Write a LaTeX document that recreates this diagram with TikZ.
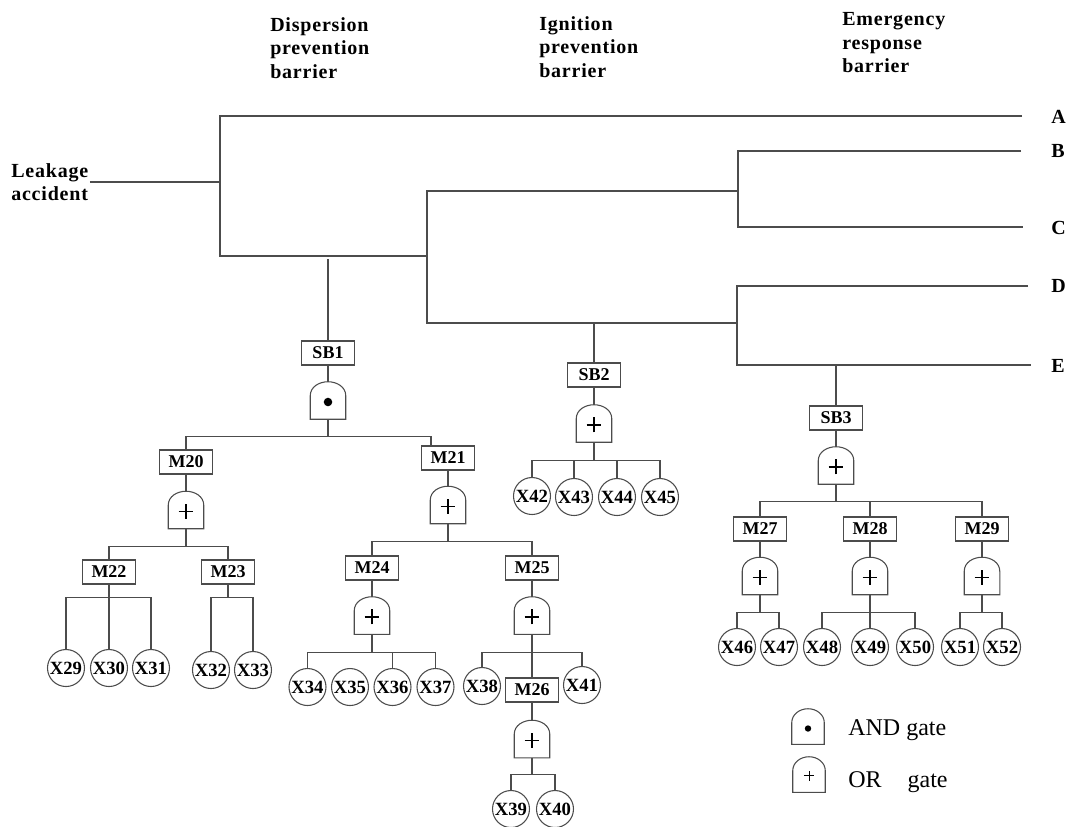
\documentclass[tikz,border=0pt]{standalone}
\usepackage{fontspec}
\setmainfont{Liberation Serif}
\usetikzlibrary{calc}

\begin{document}
\begin{tikzpicture}[
	x=0.75pt, y=-0.75pt,
	wire/.style={
		draw=black!70,
		line width=0.8pt,
	},
	head/.style={
		font=\fontsize{15}{17.6}\selectfont\bfseries\addfontfeature{LetterSpace=4},
		align=left,
		anchor=west,
		inner sep=0pt,
	},
	outcome/.style={
		font=\fontsize{15}{17.6}\selectfont\bfseries,
		anchor=west,
		inner sep=0pt,
	},
	evbox/.style={
		draw=black!70,
		line width=0.8pt,
		rectangle,
		minimum width=39.75pt,
		minimum height=18pt,
		inner sep=0pt,
		font=\fontsize{13.5}{14}\selectfont\bfseries,
	},
	basic/.style={
		draw=black!70,
		line width=0.8pt,
		circle,
		minimum size=27.75pt,
		inner sep=0pt,
		font=\fontsize{14}{14}\selectfont\bfseries,
	},
	gate/.style={
		rectangle,
		minimum width=26.25pt,
		minimum height=27.75pt,
		inner sep=0pt,
	},
	orgate/.style={
		gate,
		path picture={
			\draw [line width=1.1pt] ([xshift=-5.6pt,yshift=-1pt]path picture bounding box.center) -- ++(11.2pt,0pt)
				([yshift=-6.6pt]path picture bounding box.center) -- ++(0pt,11.2pt);
		},
	},
	andgate/.style={
		gate,
		path picture={\fill (path picture bounding box.center) ++(0,1.5) circle (3.2pt);},
	},
	keygate/.style={
		gate,
		minimum width=24pt,
		minimum height=26.25pt,
	},
	keytext/.style={
		font=\fontsize{18}{18}\selectfont,
		anchor=west,
		inner sep=0pt,
	},
]
\useasboundingbox (0,0) rectangle (1069,826);

% barrier headings
\node [head] (leak) at (11,182) {Leakage\\accident};
\node [head] (disp) at (270,48) {Dispersion\\prevention\\barrier};
\node [head] (ign) at (539,47) {Ignition\\prevention\\barrier};
\node [head] (emer) at (842,43) {Emergency\\response\\barrier};

\node [outcome] (A) at (1051,117) {A};
\node [outcome] (B) at (1051,151) {B};
\node [outcome] (C) at (1051,228) {C};
\node [outcome] (D) at (1051,286) {D};
\node [outcome] (E) at (1051,366) {E};

% event tree
\coordinate (n1) at (220,182);
\coordinate (n2) at (427,256);
\coordinate (n3) at (738,191);
\coordinate (n4) at (737,323);
\coordinate (eA) at (1022,116);
\coordinate (eB) at (1021,151);
\coordinate (eC) at (1023,227);
\coordinate (eD) at (1028,286);
\coordinate (eE) at (1031,365);

\draw [wire] ([xshift=1pt]leak.east) -- (n1);
\draw [wire] (eA) -| (n1) |- (n2);
\draw [wire] (n2) |- (n3);
\draw [wire] (n2) |- (n4);
\draw [wire] (eB) -| (n3) |- (eC);
\draw [wire] (eD) -| (n4) |- (eE);

% dispersion prevention fault tree
\node [evbox] (sb1) at (328,353) {SB1};
\node [andgate] (g1) at (328,400.5) {};
\node [evbox] (m20) at (186,462) {M20};
\node [evbox] (m21) at (448,458) {M21};
\node [orgate] (g20) at (186,510) {};
\node [orgate] (g21) at (448,505) {};
\node [evbox] (m22) at (109,572) {M22};
\node [evbox] (m23) at (228,572) {M23};
\node [evbox] (m24) at (372,568) {M24};
\node [evbox] (m25) at (532,568) {M25};
\node [orgate] (g24) at (372,615.5) {};
\node [orgate] (g25) at (532,615.5) {};
\node [basic] (x29) at (66,668) {X29};
\node [basic] (x30) at (109,668) {X30};
\node [basic] (x31) at (151,668) {X31};
\node [basic] (x32) at (211,670) {X32};
\node [basic] (x33) at (253,670) {X33};
\node [basic] (x34) at (307.5,687) {X34};
\node [basic] (x35) at (350,687) {X35};
\node [basic] (x36) at (392.5,687) {X36};
\node [basic] (x37) at (435.5,687) {X37};
\node [basic] (x38) at (482,686) {X38};
\node [evbox] (m26) at (532,690) {M26};
\node [basic] (x41) at (582,685) {X41};
\node [orgate] (g26) at (532,739) {};
\node [basic] (x39) at (511,809) {X39};
\node [basic] (x40) at (555,809) {X40};

% ignition prevention fault tree
\node [evbox] (sb2) at (594,375) {SB2};
\node [orgate] (g2) at (594,423.5) {};
\node [basic] (x42) at (532,496) {X42};
\node [basic] (x43) at (574,497) {X43};
\node [basic] (x44) at (617,497) {X44};
\node [basic] (x45) at (660,497) {X45};

% emergency response fault tree
\node [evbox] (sb3) at (836,418) {SB3};
\node [orgate] (g3) at (836,465.5) {};
\node [evbox] (m27) at (760,529) {M27};
\node [evbox] (m28) at (870,529) {M28};
\node [evbox] (m29) at (982,529) {M29};
\node [orgate] (g27) at (760,576) {};
\node [orgate] (g28) at (870,576) {};
\node [orgate] (g29) at (982,576) {};
\node [basic] (x46) at (737,647) {X46};
\node [basic] (x47) at (779,647) {X47};
\node [basic] (x48) at (822,647) {X48};
\node [basic] (x49) at (870,647) {X49};
\node [basic] (x50) at (915,647) {X50};
\node [basic] (x51) at (960,647) {X51};
\node [basic] (x52) at (1002,647) {X52};

% key
\node [keygate, path picture={\fill (path picture bounding box.center) ++(0,2) circle (2.4pt);}] (kand) at (808,726.5) {};
\node [keygate, path picture={
	\draw [line width=0.6pt] ([xshift=-3.8pt,yshift=-1pt]path picture bounding box.center) -- ++(7.6pt,0pt)
		([yshift=-4.8pt]path picture bounding box.center) -- ++(0pt,7.6pt);}] (kor) at (809,774.5) {};
\node [keytext] (tand) at (848,730) {AND gate};
\node [keytext] (tor) at (848,782) {OR\hspace{19.5pt}gate};

% gate outlines
\foreach \g in {g1,g2,g3,g20,g21,g24,g25,g26,g27,g28,g29,kand,kor}
	\draw [wire] (\g.south west) -- ([yshift=-10.5pt]\g.north west)
		to[out=90,in=180] (\g.north) to[out=0,in=90] ([yshift=-10.5pt]\g.north east)
		-- (\g.south east) -- cycle;

% connectors
\coordinate (s1) at (328,259);
\draw [wire] (s1) -- (sb1);
\draw [wire] (sb1) -- (g1);
\draw [wire] (g1.south) -- ++(0,17) coordinate (j1);
\draw [wire] (m20.north) |- (j1) -| ([xshift=-12.75pt]m21.north);
\draw [wire] (m20) -- (g20);
\draw [wire] (g20.south) -- ++(0,18) coordinate (j20);
\draw [wire] (m22.north) |- (j20) -| (m23.north);
\draw [wire] (m22.south) -- ++(0,13) coordinate (j22);
\draw [wire] (x29.north) |- (j22) -| (x31.north);
\draw [wire] (j22) -- (x30);
\draw [wire] (m23.south) -- ++(0,13) coordinate (j23);
\draw [wire] (x32.north) |- (j23) -| (x33.north);
\draw [wire] (m21) -- (g21);
\draw [wire] (g21.south) -- ++(0,18) coordinate (j21);
\draw [wire] (m24.north) |- (j21) -| (m25.north);
\draw [wire] (m24) -- (g24);
\draw [wire] (g24.south) -- ++(0,18) coordinate (j24);
\draw [wire] (x34.north) |- (j24) -| (x37.north);
\draw [wire] (x36.north) -- (x36.north |- j24);
\draw [wire] (m25) -- (g25);
\draw [wire] (g25.south) -- ++(0,18) coordinate (j25);
\draw [wire] (x38.north) |- (j25) -| (x41.north);
\draw [wire] (j25) -- (m26);
\draw [wire] (m26) -- (g26);
\draw [wire] (g26.south) -- ++(0,17) coordinate (j26);
\draw [wire] (x39.north) |- (j26) -| (x40.north);

\coordinate (s2) at (594,323);
\draw [wire] (s2) -- (sb2);
\draw [wire] (sb2) -- (g2);
\draw [wire] (g2.south) -- ++(0,18) coordinate (j2);
\draw [wire] (x42.north) |- (j2) -| (x45.north);
\draw [wire] (x43.north) -- (x43.north |- j2);
\draw [wire] (x44.north) -- (x44.north |- j2);

\coordinate (s3) at (836,365);
\draw [wire] (s3) -- (sb3);
\draw [wire] (sb3) -- (g3);
\draw [wire] (g3.south) -- ++(0,17) coordinate (j3);
\draw [wire] (m27.north) |- (j3) -| (m29.north);
\draw [wire] (m28.north) -- (m28.north |- j3);
\foreach \m in {27,28,29} {
	\draw [wire] (m\m) -- (g\m);
	\draw [wire] (g\m.south) -- ++(0,18) coordinate (j\m);
}
\draw [wire] (x46.north) |- (j27) -| (x47.north);
\draw [wire] (x48.north) |- (j28) -| (x50.north);
\draw [wire] (j28) -- (x49);
\draw [wire] (x51.north) |- (j29) -| (x52.north);
\end{tikzpicture}
\end{document}
